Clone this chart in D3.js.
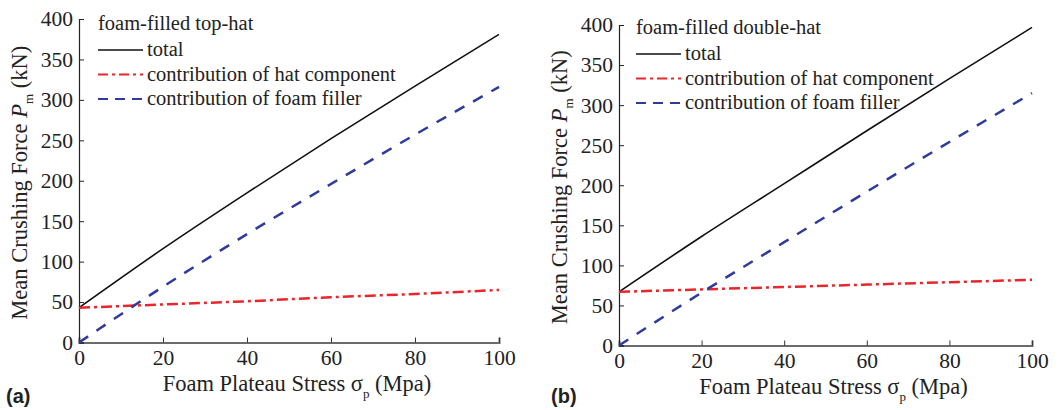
<!DOCTYPE html>
<html><head><meta charset="utf-8">
<script src="https://cdn.jsdelivr.net/npm/d3@7"></script>
<style>body{margin:0;background:#fff}svg{display:block}</style>
</head><body><svg id="c" width="1061" height="410"></svg>
<script>
const sigma = [0, 20, 40, 60, 80, 100];
const xTicks = [0, 20, 40, 60, 80, 100];
const yTicks = [0, 50, 100, 150, 200, 250, 300, 350, 400];
// panel (a) foam-filled top-hat
const topHatTotal = [43, 116, 185, 252, 317, 381];
const topHatHat = [43, 47, 51, 56, 60, 65];
const topHatFoam = [0, 69, 134, 196, 257, 316];
// panel (b) foam-filled double-hat
const dblHatTotal = [67, 136, 202, 268, 333, 397];
const dblHatHat = [67, 70, 73, 76, 79, 82];
const dblHatFoam = [0, 66, 129, 192, 254, 315];
const legendLabels = ["total", "contribution of hat component", "contribution of foam filler"];

const SERIF = '"Liberation Serif", "Times New Roman", serif';
const svg = d3.select("#c");
const styles = [
  {color: "#111", width: 1.6, dash: null},
  {color: "#e8262b", width: 2.5, dash: "11,4,3,4"},
  {color: "#2e3a9c", width: 2.5, dash: "11,10"}
];
function serif(sel, size) { return sel.style("font-family", SERIF).style("font-size", size + "px"); }

function panel(cfg) {
  const x = d3.scaleLinear().domain([0, 100]).range([cfg.x0, cfg.x1]);
  const y = d3.scaleLinear().domain([0, 400]).range([cfg.y0, cfg.y1]);
  const g = svg.append("g");
  const xa = g.append("g").attr("transform", `translate(0,${cfg.y0})`)
    .call(d3.axisBottom(x).tickValues(xTicks).tickSize(-5).tickPadding(7));
  xa.attr("font-family", null).attr("font-size", null);
  xa.select(".domain").attr("stroke", "#6b6b6b").attr("stroke-width", 2);
  xa.selectAll(".tick line").attr("stroke", "#333");
  serif(xa.selectAll("text"), 21.5).attr("fill", "#222");
  const ya = g.append("g").attr("transform", `translate(${cfg.x0},0)`)
    .call(d3.axisLeft(y).tickValues(yTicks).tickSize(-5).tickPadding(6));
  ya.attr("font-family", null).attr("font-size", null);
  ya.select(".domain").attr("stroke", "#222").attr("stroke-width", 1.2);
  ya.selectAll(".tick line").attr("stroke", "#222");
  serif(ya.selectAll("text"), 21.5).attr("fill", "#222");

  const line = d3.line().curve(d3.curveMonotoneX).x((d, i) => x(sigma[i])).y(d => y(d));
  cfg.series.forEach((s, k) => {
    const p = g.append("path").datum(s).attr("d", line).attr("fill", "none")
      .attr("stroke", styles[k].color).attr("stroke-width", styles[k].width);
    if (styles[k].dash) p.attr("stroke-dasharray", styles[k].dash);
  });

  serif(g.append("text"), 20.5).attr("x", cfg.lx).attr("y", cfg.ly).attr("fill", "#222").text(cfg.title);
  legendLabels.forEach((lab, k) => {
    const yy = cfg.ly + 20 + k * 24.5;
    const p = g.append("line").attr("x1", cfg.lx).attr("x2", cfg.lx + 45).attr("y1", yy).attr("y2", yy)
      .attr("stroke", styles[k].color).attr("stroke-width", k === 0 ? 1.6 : 2.2);
    if (styles[k].dash) p.attr("stroke-dasharray", k === 1 ? "10,4,3,4" : "10,7");
    serif(g.append("text"), 20.5).attr("x", cfg.lx + 49).attr("y", yy + 6).attr("fill", "#222").text(lab);
  });

  const xt = serif(g.append("text"), 22.5).attr("x", (cfg.x0 + cfg.x1) / 2 + 8).attr("y", cfg.y0 + 48)
    .attr("text-anchor", "middle").attr("fill", "#222");
  xt.append("tspan").text("Foam Plateau Stress σ");
  xt.append("tspan").style("font-size", "13px").attr("dy", 7).text("p");
  xt.append("tspan").attr("dy", -7).text(" (Mpa)");

  const yt = serif(g.append("text"), 22.5)
    .attr("transform", `translate(${cfg.ytx},${(cfg.y0 + cfg.y1) / 2 + 2}) rotate(-90)`)
    .attr("text-anchor", "middle").attr("fill", "#222");
  yt.append("tspan").text("Mean Crushing Force ");
  yt.append("tspan").style("font-style", "italic").text("P");
  yt.append("tspan").style("font-size", "13px").attr("dy", 6).text("m");
  yt.append("tspan").attr("dy", -6).text(" (kN)");

  svg.append("text").attr("x", cfg.labx).attr("y", 403)
    .style("font-family", '"Liberation Sans", Arial, sans-serif')
    .style("font-weight", "bold").style("font-size", "20px").attr("fill", "#222").text(cfg.label);
}

panel({x0: 79, x1: 499, y0: 342.5, y1: 19, series: [topHatTotal, topHatHat, topHatFoam],
  title: "foam-filled top-hat", lx: 98, ly: 30, ytx: 27, labx: 6, label: "(a)"});
panel({x0: 619, x1: 1032, y0: 345.5, y1: 25, series: [dblHatTotal, dblHatHat, dblHatFoam],
  title: "foam-filled double-hat", lx: 636, ly: 34, ytx: 567, labx: 551, label: "(b)"});
</script></body></html>
